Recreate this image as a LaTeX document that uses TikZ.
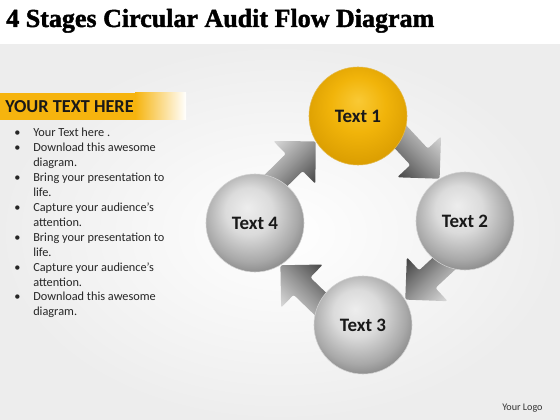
\documentclass[tikz,border=0pt]{standalone}
\usepackage{fontspec}
\setmainfont{Carlito}
\newfontfamily\titlefont[FakeBold=1.6]{Liberation Serif}
\usetikzlibrary{calc,backgrounds}
\definecolor{bannerc}{HTML}{F6B40E}
\definecolor{goldA}{HTML}{F9C935}
\definecolor{goldB}{HTML}{F1B40A}
\definecolor{goldC}{HTML}{D89B00}
\pgfdeclareradialshading{goldball}{\pgfpoint{0bp}{8bp}}{color(0bp)=(goldA); color(14bp)=(goldB); color(30bp)=(goldC); color(50bp)=(goldC)}
\pgfdeclareradialshading{greyball}{\pgfpoint{-4bp}{8bp}}{color(0bp)=(black!7); color(12bp)=(black!14); color(24bp)=(black!34); color(32bp)=(black!52); color(50bp)=(black!52)}
\tikzset{
  stage/.style={circle, minimum size=2.45cm, inner sep=0pt, shade, shading=greyball, draw=white!82!black, line width=0.4pt, font=\bfseries\fontsize{13.5}{16}\selectfont, text=black!90},
  goldstage/.style={stage, shading=goldball, draw=goldC!70!white},
  arrowbody/.style={top color=black!10, bottom color=black!78, middle color=black!42, rounded corners=1.5pt},
}
\begin{document}
\begin{tikzpicture}[x=0.025cm, y=-0.025cm, line join=round, line cap=round]
	\def\headlen{0.75cm} \def\headw{0.75cm} \def\shaftw{0.3cm}
	\useasboundingbox (0,0) rectangle (560,420);
	% title and left panel
	\node[anchor=base west, inner sep=0pt, font=\titlefont\bfseries\fontsize{18.5}{20}\selectfont] (title) at (6,27) {4 Stages Circular Audit Flow Diagram};
	\fill[bannerc] (0,93) rectangle (135,120);
	\shade[left color=bannerc, right color=bannerc!0] (135,93) rectangle (186,120);
	\node[anchor=base west, inner sep=0pt, font=\bfseries\fontsize{13}{15}\selectfont, text=black!90] (head) at (5,113) {YOUR TEXT HERE};
	\node[anchor=base west, inner sep=0pt, font=\fontsize{8.75}{10.6}\selectfont, text=black!85] (list) at (14,137) {%
		\begin{tabular}[t]{@{}p{13.5pt}@{}l@{}}
		\textbullet & Your Text here .\\
		\textbullet & Download this awesome\\
		& diagram.\\
		\textbullet & Bring your presentation to\\
		& life.\\
		\textbullet & Capture your audience’s\\
		& attention.\\
		\textbullet & Bring your presentation to\\
		& life.\\
		\textbullet & Capture your audience’s\\
		& attention.\\
		\textbullet & Download this awesome\\
		& diagram.
		\end{tabular}};
	\node[anchor=base west, inner sep=0pt, font=\fontsize{7.2}{9}\selectfont, text=black!80] (logo) at (502,410) {Your Logo};
	% the four stages
	\node[goldstage] (t1) at (358,116) {Text 1};
	\node[stage] (t2) at (465,221) {Text 2};
	\node[stage] (t3) at (363,325) {Text 3};
	\node[stage] (t4) at (255,223) {Text 4};
	\def\flow#1#2#3{%
		\coordinate (h) at ($(#2)!\headlen!(#1)$);
		\coordinate (e) at ($(#2)!1.6!(#1)$);
		\shade[arrowbody, shading angle=#3] (#2) -- ($(h)!\headw!90:(#2)$) -- ($(h)!\shaftw!90:(#2)$)
		-- ($(e)!\shaftw!90:(#2)$) -- ($(e)!\shaftw!-90:(#2)$) -- ($(h)!\shaftw!-90:(#2)$)
		-- ($(h)!\headw!-90:(#2)$) -- cycle;
	}
	\begin{scope}[on background layer]
		\fill[white] (0,0) rectangle (560,420);
		\shade[inner color=white, outer color=black!7] (0,45) rectangle (560,420);
		\flow{t4.63}{t1.211}{45}
		\flow{t1.333}{t2.121}{-45}
		\flow{t2.243}{t3.31}{-135}
		\flow{t3.153}{t4.301}{135}
	\end{scope}
\end{tikzpicture}
\end{document}
